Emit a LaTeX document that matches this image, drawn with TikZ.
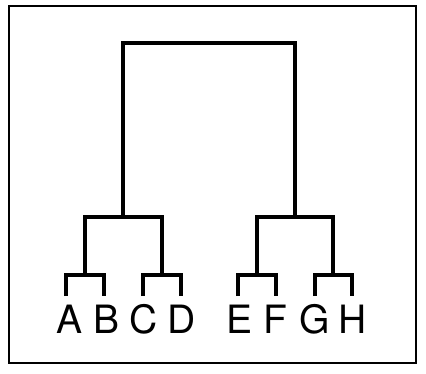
\documentclass[tikz,border=0pt]{standalone}
\usepackage{fontspec}
\setmainfont{TeX Gyre Heros}
\begin{document}
\begin{tikzpicture}[x=1pt,y=-1pt,
  tree/.style={line width=3.4pt, line cap=butt, line join=miter},
  leaf/.style={font=\fontsize{39}{39}\selectfont, anchor=base, inner sep=0pt}]
\useasboundingbox (0,0) rectangle (426,373);
% frame
\draw[line width=2pt] (9,6) rectangle (416,363);

% leaf tips
\coordinate (tA) at (66,296);
\coordinate (tB) at (104,296);
\coordinate (tC) at (143,296);
\coordinate (tD) at (181,296);
\coordinate (tE) at (238,296);
\coordinate (tF) at (276,296);
\coordinate (tG) at (315,296);
\coordinate (tH) at (352,296);
% merge points
\coordinate (pAB) at (85,275);
\coordinate (pCD) at (162,275);
\coordinate (pEF) at (257,275);
\coordinate (pGH) at (333,275);
\coordinate (mL) at (123,217);
\coordinate (mR) at (295,217);
\coordinate (root) at (209,43);

% labels
\node[leaf] (A) at (70,333) {A};
\node[leaf] (B) at (107,333) {B};
\node[leaf] (C) at (144,333) {C};
\node[leaf] (D) at (182,333) {D};
\node[leaf] (E) at (240,333) {E};
\node[leaf] (F) at (275,333) {F};
\node[leaf] (G) at (315,333) {G};
\node[leaf] (H) at (353,333) {H};

% dendrogram
\draw[tree] (tA) |- (pAB) -| (tB);
\draw[tree] (tC) |- (pCD) -| (tD);
\draw[tree] (tE) |- (pEF) -| (tF);
\draw[tree] (tG) |- (pGH) -| (tH);
\draw[tree] (pAB) |- (mL) -| (pCD);
\draw[tree] (pEF) |- (mR) -| (pGH);
\draw[tree] (mL) |- (root) -| (mR);
\end{tikzpicture}
\end{document}
